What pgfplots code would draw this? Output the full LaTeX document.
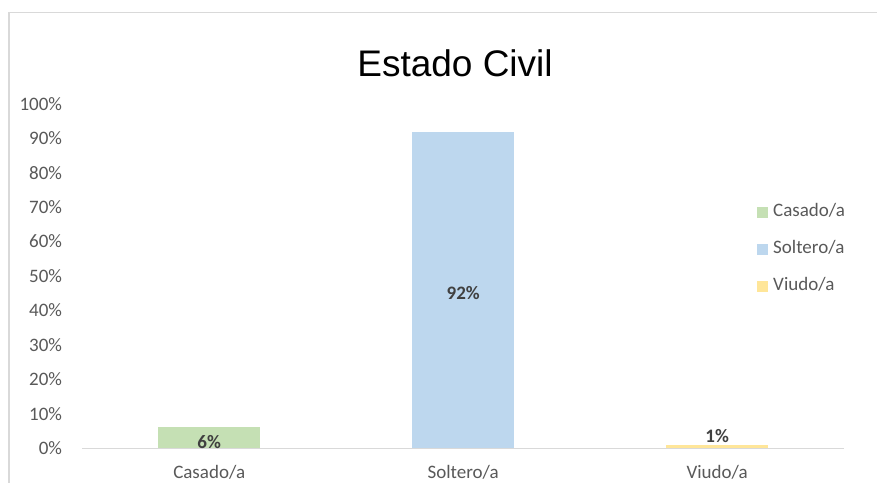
\documentclass[border=0pt]{standalone}
\usepackage{pgfplots}
\pgfplotsset{compat=1.18}
\usepackage{fontspec}
\setmainfont{Carlito}
\newfontfamily\titlefont{Liberation Sans}
\definecolor{cGreen}{HTML}{C5E0B4}
\definecolor{cBlue}{HTML}{BDD7EE}
\definecolor{cYellow}{HTML}{FFE699}
\definecolor{frameGray}{HTML}{D9D9D9}
\definecolor{tickGray}{HTML}{595959}
\definecolor{labGray}{HTML}{404040}
\pgfplotsset{
  sq legend/.style={legend image code/.code={\fill[##1] (0bp,-5.5bp) rectangle (11bp,5.5bp);}},
  barlab/.style={nodes near coords={\pgfmathprintnumber{\pgfplotspointmeta}\%}, nodes near coords style={anchor=center, yshift=#1, font=\bfseries\fontsize{19bp}{22bp}\selectfont, text=labGray, inner sep=0pt}},
}
\begin{document}
\begin{tikzpicture}
\useasboundingbox (0,0) rectangle (877bp,483bp);
\fill[white] (0,0) rectangle (877bp,483bp);
\draw[color=frameGray, line width=1.5bp] (9bp,0bp) -- (9bp,470.5bp) -- (877bp,470.5bp);
\node[anchor=base, inner sep=0pt, font=\titlefont\fontsize{37bp}{44bp}\selectfont] at (455bp,406.3bp) {Estado Civil};
\begin{axis}[
  at={(82.2bp,35bp)}, anchor=south west,
  scale only axis, width=762bp, height=344bp,
  xmin=-0.5, xmax=2.5, ymin=0, ymax=100,
  xtick={0,1,2}, xticklabels={Casado/a,Soltero/a,Viudo/a},
  ytick={0,10,...,100},
  /pgf/number format/assume math mode=true,
  yticklabel={\pgfmathprintnumber{\tick}\%},
  separate axis lines,
  axis x line*=bottom, axis y line*=left,
  x axis line style={draw=frameGray, line width=1bp, -},
  y axis line style={draw=none},
  tick style={draw=none},
  major tick length=0pt,
  yticklabel style={anchor=east, inner sep=0pt, xshift=-20bp, font=\fontsize{19bp}{22bp}\selectfont, text=tickGray},
  xticklabel style={anchor=base, inner sep=0pt, yshift=-30bp, font=\fontsize{19bp}{22bp}\selectfont, text=tickGray},
  legend style={at={(axis description cs:0.8856,0.576)}, anchor=west, draw=none, fill=none, inner sep=0pt,
    nodes={inner sep=0pt, text height=12bp, text depth=4bp, font=\fontsize{19bp}{22bp}\selectfont, text=tickGray},
    row sep=21bp, column sep=5bp},
  legend cell align=left,
  clip=false,
]
\addplot[ybar, bar width=102bp, bar shift=0pt, fill=cGreen, draw=none, barlab=-14.4bp, sq legend] coordinates {(0,6)};
\addplot[ybar, bar width=102bp, bar shift=0pt, fill=cBlue, draw=none, barlab=-161.7bp, sq legend] coordinates {(1,92)};
\addplot[ybar, bar width=102bp, bar shift=0pt, fill=cYellow, draw=none, barlab=8.8bp, sq legend] coordinates {(2,1)};
\legend{Casado/a,Soltero/a,Viudo/a}
\end{axis}
\end{tikzpicture}
\end{document}
